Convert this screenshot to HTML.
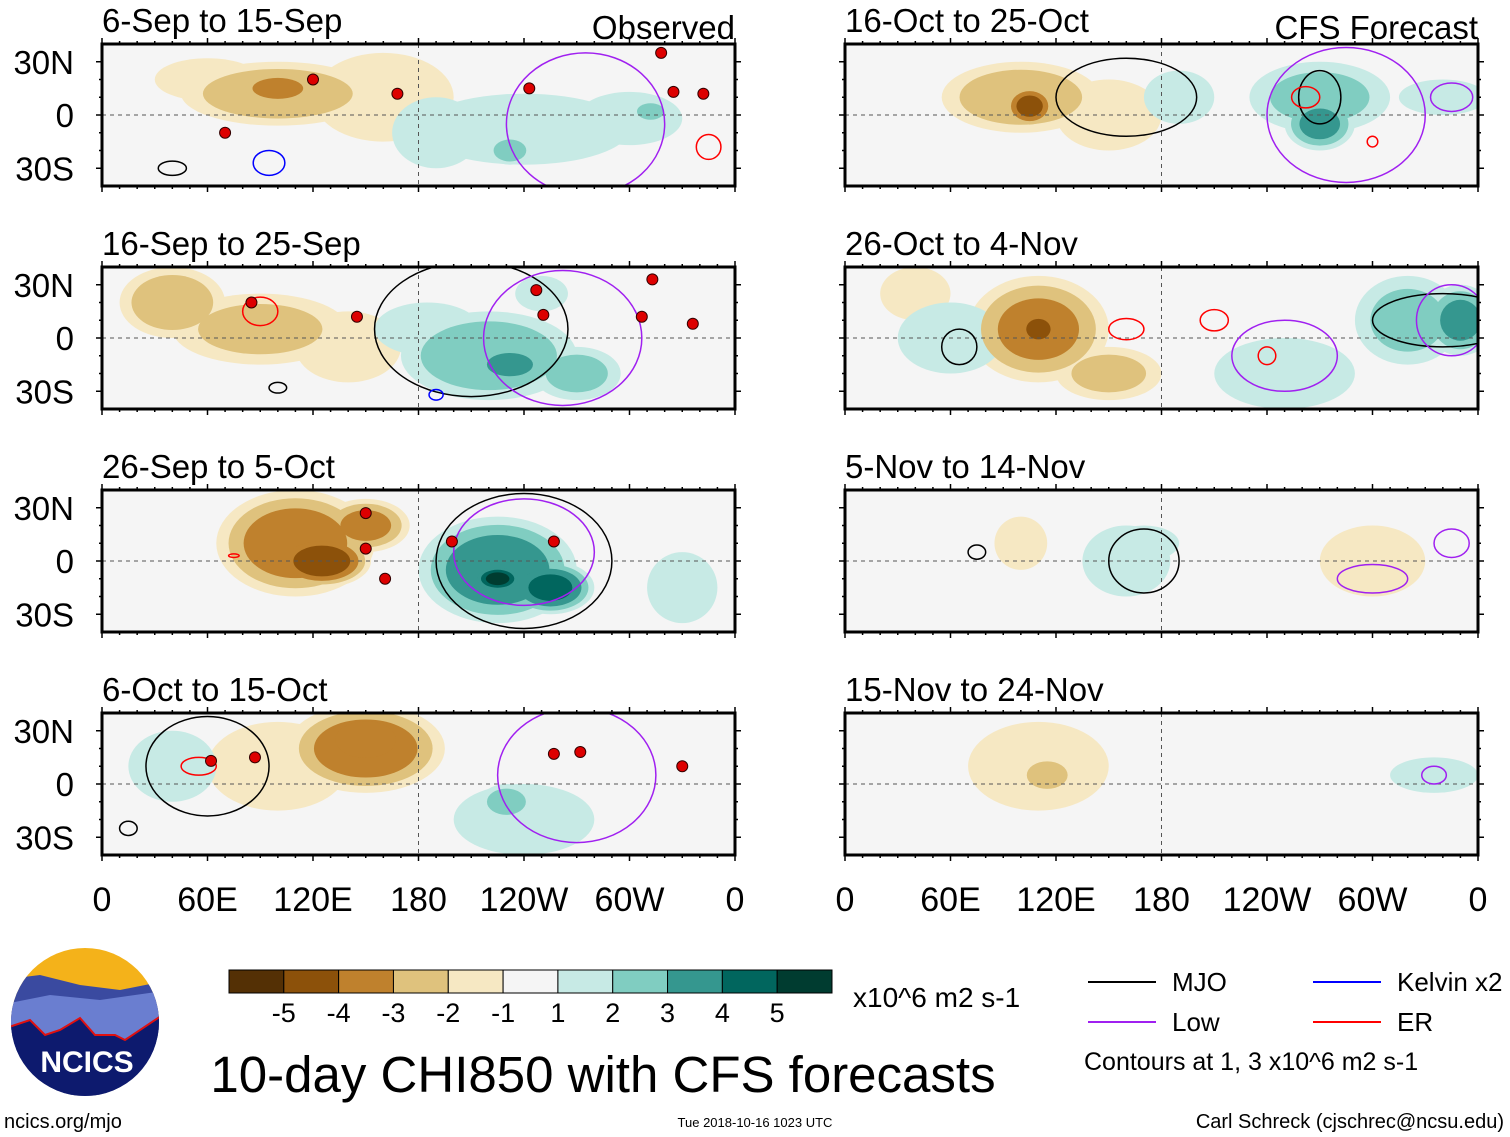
<!DOCTYPE html>
<html><head><meta charset="utf-8"><style>
body{margin:0;background:#fff;width:1510px;height:1137px;overflow:hidden;font-family:"Liberation Sans",sans-serif}
svg{position:absolute;left:0;top:0}
</style></head><body>
<svg id="s" width="1510" height="1137" font-family="Liberation Sans, sans-serif"></svg>
<script>
const panelTitles=["6-Sep to 15-Sep","16-Sep to 25-Sep","26-Sep to 5-Oct","6-Oct to 15-Oct","16-Oct to 25-Oct","26-Oct to 4-Nov","5-Nov to 14-Nov","15-Nov to 24-Nov"];
// anomaly blobs: [lon, lat, lonRadius, latRadius, amplitude x10^6]
const blobs1=[[100,12,55,18,-2.5],[100,15,22,9,-3.5],[160,10,40,25,-1.5],[60,20,30,12,-1.5],[240,-8,60,20,1.5],[232,-20,12,8,2.5],[300,-2,30,15,1.5],[312,2,10,6,2.5],[190,-10,25,20,1.2]];
const blobs2=[[40,20,30,20,-2.5],[90,5,50,20,-2],[140,-5,30,20,-1.5],[220,-10,50,25,2.5],[232,-15,20,10,3.5],[270,-20,25,15,2],[250,25,15,10,1.5],[185,5,30,15,1.5]];
const blobs3=[[110,10,45,30,-3.5],[125,0,28,15,-4.5],[150,20,25,15,-3],[225,-5,45,30,3.5],[225,-10,15,8,5],[255,-15,25,15,4],[330,-15,20,20,1.5]];
const blobs4=[[150,20,45,25,-3.5],[150,25,25,15,-3.8],[100,10,40,25,-1.5],[40,10,25,20,1.2],[240,-20,40,20,1.2],[230,-10,15,10,2.2]];
const blobs5=[[100,10,45,20,-2.5],[105,5,15,12,-4],[150,0,30,20,-1.5],[270,10,40,20,2],[270,-5,20,15,3],[190,10,20,15,1.2],[340,10,25,10,1.2]];
const blobs6=[[110,5,40,30,-3],[110,5,12,10,-4.5],[150,-20,30,15,-2],[40,25,20,15,-1.5],[60,0,30,20,1.5],[320,10,30,25,2],[350,10,20,20,3],[250,-20,40,20,1.2]];
const blobs7=[[100,10,15,15,-1.5],[300,0,30,20,-1.3],[160,0,25,20,1.3],[170,10,20,10,1.2]];
const blobs8=[[110,10,40,25,-1.6],[115,5,15,10,-2.5],[335,5,25,10,1.3]];
const allBlobs=[blobs1,blobs2,blobs3,blobs4,blobs5,blobs6,blobs7,blobs8];
// contours: [type, lon, lat, lonRadius, latRadius]
const cont1=[["mjo",40,-30,8,4],["kelvin",95,-27,9,7],["er",345,-18,7,7],["low",275,-5,45,40]];
const cont2=[["mjo",210,5,55,38],["low",262,0,45,38],["er",90,15,10,8],["kelvin",190,-32,4,3],["mjo",100,-28,5,3]];
const cont3=[["mjo",240,0,50,38],["low",240,5,40,30],["er",75,3,3,1]];
const cont4=[["mjo",60,10,35,28],["low",270,5,45,38],["er",55,10,10,5],["mjo",15,-25,5,4]];
const cont5=[["mjo",160,10,40,22],["mjo",270,10,12,15],["low",285,0,45,38],["er",262,10,8,6],["er",300,-15,3,3],["low",345,10,12,8]];
const cont6=[["mjo",65,-5,10,10],["mjo",340,10,40,15],["low",345,10,20,20],["low",250,-10,30,20],["er",160,5,10,6],["er",210,10,8,6],["er",240,-10,5,5]];
const cont7=[["mjo",170,0,20,18],["mjo",75,5,5,4],["low",300,-10,20,8],["low",345,10,10,8]];
const cont8=[["low",335,5,7,5]];
const allCont=[cont1,cont2,cont3,cont4,cont5,cont6,cont7,cont8];
// storm positions [lon, lat, label]
const storms1=[[120,20,"B"],[70,-10,"I"],[168,12,"M"],[243,15,"F"],[318,35,"J"],[325,13,"I"],[342,12,"H"]];
const storms2=[[85,20,"J"],[145,12,"T"],[247,27,"10"],[251,13,"R"],[313,33,"L"],[307,12,"11"],[336,8,"K"]];
const storms3=[[150,27,"29"],[150,7,"K"],[161,-10,"L"],[199,11,"W"],[257,11,"S"]];
const storms4=[[87,15,"T"],[62,13,"L"],[257,17,"T"],[272,18,"M"],[330,10,"N"]];
const allStorms=[storms1,storms2,storms3,storms4,[],[],[],[]];
const negCol=["#f6e8c3","#dfc27d","#bf812d","#8c510a","#543005"];
const posCol=["#c7eae5","#80cdc1","#35978f","#01665e","#003c30"];
const contCol={mjo:"#000",low:"#a020f0",kelvin:"#0000ff",er:"#ff0000"};
const NS="http://www.w3.org/2000/svg";
const svg=document.getElementById('s');
function el(tag,attrs,parent,text){const e=document.createElementNS(NS,tag);for(const k in attrs)e.setAttribute(k,attrs[k]);if(text!==undefined)e.textContent=text;(parent||svg).appendChild(e);return e;}
const W=633,H=142,panelX=[102,845],panelY=[44,267,490,713];
for(let p=0;p<8;p++){
  const x0=panelX[p<4?0:1],y0=panelY[p%4];
  const lonX=l=>x0+l/360*W, latY=a=>y0+(40-a)/80*H;
  const g=el('g',{});
  
  
  const cp=el('clipPath',{id:'c'+p},g);el('rect',{x:x0,y:y0,width:W,height:H},cp);
  el('rect',{x:x0,y:y0,width:W,height:H,fill:'#f5f5f5'},g);
  const inner=el('g',{'clip-path':'url(#c'+p+')'},g);
  for(let k=1;k<=5;k++){
    for(const b of allBlobs[p]){
      const A=Math.abs(b[4]);if(A<k)continue;
      const f=Math.sqrt(1-(k-1)/A);
      const e=el('ellipse',{cx:lonX(b[0]),cy:latY(b[1]),rx:b[2]/360*W*f,ry:b[3]/80*H*f,fill:(b[4]<0?negCol:posCol)[k-1]},inner);
      
      
    }
  }
  el('line',{x1:x0,x2:x0+W,y1:latY(0),y2:latY(0),stroke:'#555','stroke-dasharray':'4,4','stroke-width':1},inner);
  el('line',{x1:lonX(180),x2:lonX(180),y1:y0,y2:y0+H,stroke:'#555','stroke-dasharray':'4,4','stroke-width':1},inner);
  for(const c of allCont[p]){
    const e=el('ellipse',{cx:lonX(c[1]),cy:latY(c[2]),rx:c[3]/360*W,ry:c[4]/80*H,fill:'none',stroke:contCol[c[0]],'stroke-width':1.5},inner);
    
    
  }
  for(const s of allStorms[p]){
    const c=el('circle',{cx:lonX(s[0]),cy:latY(s[1]),r:5.5,fill:'#d00',stroke:'#300','stroke-width':1},inner);
    
    
  }
  el('rect',{x:x0,y:y0,width:W,height:H,fill:'none',stroke:'#000','stroke-width':3},g);
  for(let l=0;l<=360;l+=10){const len=l%60==0?6:3;el('line',{x1:lonX(l),x2:lonX(l),y1:y0-len,y2:y0,stroke:'#000','stroke-width':1.5},g);el('line',{x1:lonX(l),x2:lonX(l),y1:y0+H,y2:y0+H+len,stroke:'#000','stroke-width':1.5},g);}
  for(let a=-30;a<=30;a+=10){const len=a%30==0?6:3;el('line',{x1:x0-len,x2:x0,y1:latY(a),y2:latY(a),stroke:'#000','stroke-width':1.5},g);el('line',{x1:x0+W,x2:x0+W+len,y1:latY(a),y2:latY(a),stroke:'#000','stroke-width':1.5},g);}
  const t=el('text',{x:x0,y:y0-12,'font-size':33},g,panelTitles[p]);
  
  
  if(p===0){el('text',{x:x0+W,y:y0-5,'font-size':33,'text-anchor':'end'},g,"Observed");}
  if(p===4){el('text',{x:x0+W,y:y0-5,'font-size':33,'text-anchor':'end'},g,"CFS Forecast");}
  if(p<4){[["30N",30],["0",0],["30S",-30]].forEach(d=>{const tt=el('text',{x:74,y:latY(d[1])+12,'font-size':33,'text-anchor':'end'},g,d[0]);});}
  if(p%4===3){[["0",0],["60E",60],["120E",120],["180",180],["120W",240],["60W",300],["0",360]].forEach(d=>{const tt=el('text',{x:lonX(d[1]),y:911,'font-size':34,'text-anchor':'middle'},g,d[0]);});}
}
// colorbar
const cbCols=["#543005","#8c510a","#bf812d","#dfc27d","#f6e8c3","#f5f5f5","#c7eae5","#80cdc1","#35978f","#01665e","#003c30"];
const cbLabels=["-5","-4","-3","-2","-1","1","2","3","4","5"];
const cb=el('g',{});
const bw=(832-229)/11;
cbCols.forEach((c,i)=>el('rect',{x:229+i*bw,y:970,width:bw,height:23,fill:c,stroke:'#000','stroke-width':1},cb));
cbLabels.forEach((l,i)=>el('text',{x:229+(i+1)*bw,y:1022,'font-size':27,'text-anchor':'middle'},cb,l));
el('text',{x:853,y:1007,'font-size':28},cb,"x10^6 m2 s-1");
// legend
const lg=el('g',{});
[["MJO","#000",1088,982],["Low","#a020f0",1088,1022],["Kelvin x2","#0000ff",1313,982],["ER","#ff0000",1313,1022]].forEach(d=>{el('line',{x1:d[2],x2:d[2]+68,y1:d[3],y2:d[3],stroke:d[1],'stroke-width':2},lg);el('text',{x:d[2]+84,y:d[3]+9,'font-size':26},lg,d[0]);});
el('text',{x:1084,y:1070,'font-size':25},lg,"Contours at 1, 3 x10^6 m2 s-1");
const ti=el('text',{x:603,y:1092,'font-size':51,'text-anchor':'middle'},svg,"10-day CHI850 with CFS forecasts");

el('text',{x:4,y:1128,'font-size':20},svg,"ncics.org/mjo");
el('text',{x:755,y:1127,'font-size':13,'text-anchor':'middle'},svg,"Tue 2018-10-16 1023 UTC");
el('text',{x:1504,y:1128,'font-size':20,'text-anchor':'end'},svg,"Carl Schreck (cjschrec@ncsu.edu)");
// logo
const lo=el('g',{});
const lcp=el('clipPath',{id:'lc'},lo);el('circle',{cx:85,cy:1022,r:74},lcp);
const lgi=el('g',{'clip-path':'url(#lc)'},lo);
el('rect',{x:0,y:940,width:170,height:170,fill:'#f4b21a'},lgi);
el('path',{d:'M0 980 L40 975 L80 985 L120 990 L170 980 L170 1120 L0 1120Z',fill:'#3a4aa0'},lgi);
el('path',{d:'M0 1005 L50 995 L100 1000 L170 990 L170 1120 L0 1120Z',fill:'#6a7ed0'},lgi);
el('path',{d:'M0 1030 L30 1020 L45 1035 L60 1030 L80 1018 L95 1035 L115 1035 L125 1040 L170 1010 L170 1120 L0 1120Z',fill:'#0d1a6e',stroke:'#e01010','stroke-width':2},lgi);
el('text',{x:87,y:1072,'font-size':30,'font-weight':'bold',fill:'#fff','text-anchor':'middle'},lo,"NCICS");
</script>
</body></html>
